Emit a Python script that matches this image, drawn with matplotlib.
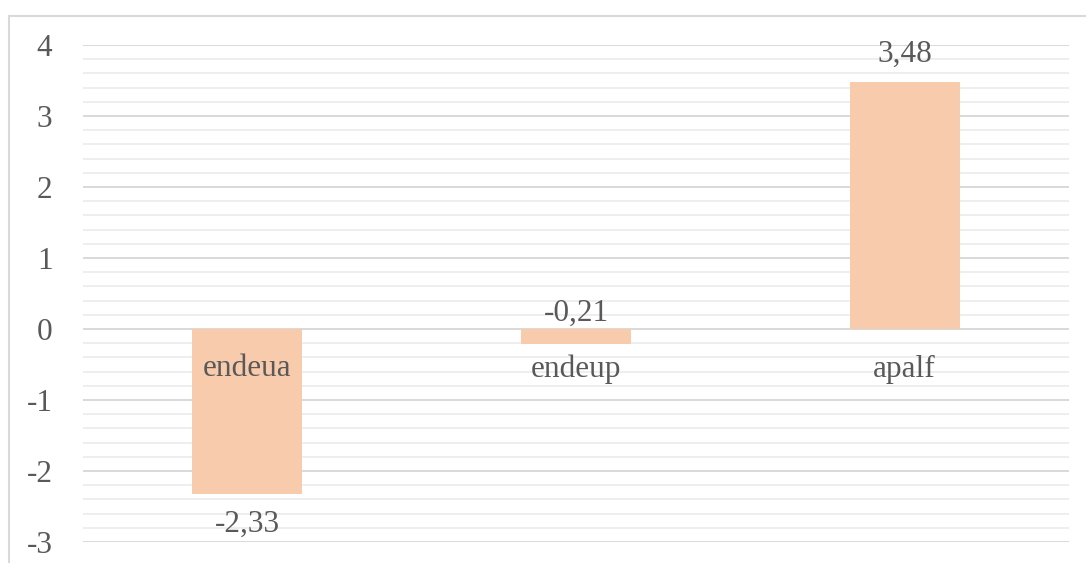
import matplotlib.pyplot as plt
import matplotlib.patches as mpatches
import numpy as np

categories = ["endeua", "endeup", "apalf"]
values = [-2.33, -0.21, 3.48]
value_labels = ["-2,33", "-0,21", "3,48"]
y_ticks = [-3, -2, -1, 0, 1, 2, 3, 4]

plt.rcParams['font.family'] = ['Liberation Serif', 'DejaVu Serif']

W, H = 1086, 563
FS = 22.5
fig = plt.figure(figsize=(W / 100, H / 100), dpi=100)
fig.patch.set_facecolor('white')

# light frame around the chart area
fig.add_artist(mpatches.Rectangle((8.5 / W, -0.05), 1.2, 1 - 15.5 / H + 0.05,
                                  transform=fig.transFigure, fill=False,
                                  edgecolor='#d9d9d9', linewidth=1.5))

ax = fig.add_axes([83 / W, 21 / H, (1069 - 83) / W, (542 - 45) / H])
ax.set_xlim(-0.5, 2.5)
ax.set_ylim(-3, 4)

# minor and major gridlines
for y in np.arange(-3, 4.001, 0.2):
    if abs(y - round(y)) > 1e-6:
        ax.axhline(y, color='#eeeeee', linewidth=1.4, zorder=0)
for y in y_ticks:
    ax.axhline(y, color='#d9d9d9', linewidth=1.4, zorder=0)

x = np.arange(len(categories))
ax.bar(x, values, width=0.334, color='#f8cbad', zorder=2)

text_color = '#595959'
px = 0.72  # points per pixel at 100 dpi
for xi, v, lab in zip(x, values, value_labels):
    if v >= 0:
        ax.annotate(lab, (xi, v), xytext=(0, 28 * px), textcoords='offset points',
                    ha='center', va='center', fontsize=FS, color=text_color)
    elif v > -0.5:
        ax.annotate(lab, (xi, 0), xytext=(0, 16 * px), textcoords='offset points',
                    ha='center', va='center', fontsize=FS, color=text_color)
    else:
        ax.annotate(lab, (xi, v), xytext=(0, -30 * px), textcoords='offset points',
                    ha='center', va='center', fontsize=FS, color=text_color)

# category labels next to the zero line
for xi, c in zip(x, categories):
    ax.annotate(c, (xi, 0), xytext=(0, -40 * px), textcoords='offset points',
                ha='center', va='center', fontsize=FS, color=text_color, zorder=3)

ax.set_yticks(y_ticks)
ax.set_yticklabels([str(t) for t in y_ticks], fontsize=FS, color=text_color)
ax.tick_params(axis='y', length=0, pad=22)
ax.set_xticks([])
for s in ax.spines.values():
    s.set_visible(False)
ax.set_facecolor('none')

fig.savefig('out.png', dpi=100, facecolor='white')
